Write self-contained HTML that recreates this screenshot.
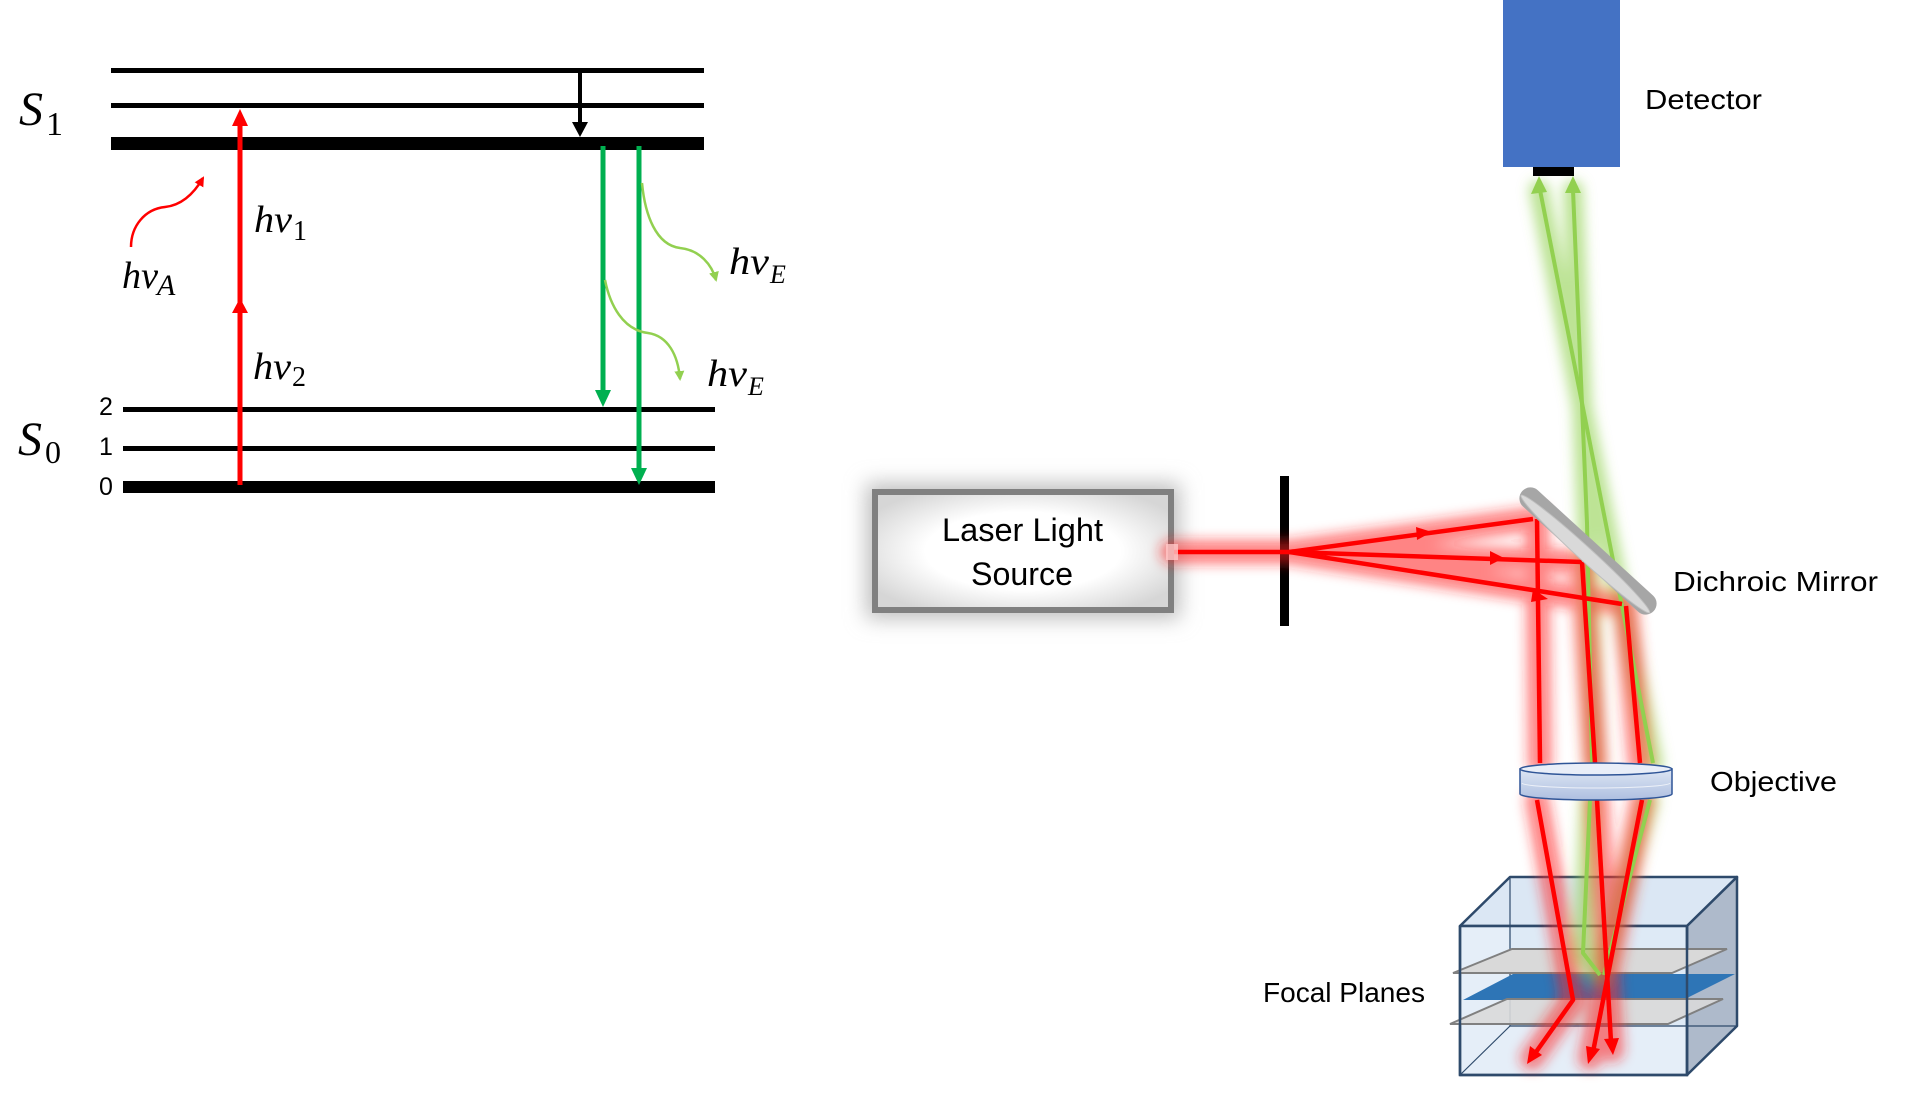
<!DOCTYPE html>
<html><head><meta charset="utf-8"><style>
html,body{margin:0;padding:0;background:#fff;}
svg{display:block;}
</style></head><body>
<svg width="1906" height="1098" viewBox="0 0 1906 1098" xmlns="http://www.w3.org/2000/svg">
<defs>
<filter id="blur" filterUnits="userSpaceOnUse" x="0" y="0" width="1906" height="1098"><feGaussianBlur stdDeviation="6"/></filter>
<filter id="blur2" filterUnits="userSpaceOnUse" x="0" y="0" width="1906" height="1098"><feGaussianBlur stdDeviation="10"/></filter>
<radialGradient id="boxg" cx="50%" cy="50%" r="60%">
<stop offset="0.55" stop-color="#ffffff"/><stop offset="1" stop-color="#d6d6d6"/>
</radialGradient>
<linearGradient id="objg" x1="0" y1="0" x2="0" y2="1">
<stop offset="0" stop-color="#dde6f4"/><stop offset="1" stop-color="#aebfe0"/>
</linearGradient>
<marker id="mr" markerWidth="10" markerHeight="10" refX="8" refY="5" orient="auto" markerUnits="userSpaceOnUse"><path d="M0,0 L10,5 L0,10 z" fill="#ff0000"/></marker>
<marker id="mg" markerWidth="10" markerHeight="10" refX="8" refY="5" orient="auto" markerUnits="userSpaceOnUse"><path d="M0,0 L10,5 L0,10 z" fill="#92d050"/></marker>
</defs>

<!-- ===== Left: Jablonski diagram ===== -->
<g fill="#000">
<rect x="111" y="68" width="593" height="5"/>
<rect x="111" y="103" width="593" height="5"/>
<rect x="111" y="137" width="593" height="13"/>
<rect x="123" y="407" width="592" height="5"/>
<rect x="123" y="446" width="592" height="5"/>
<rect x="123" y="481" width="592" height="12"/>
</g>
<g font-family="Liberation Serif, serif" fill="#000">
<text x="19" y="125" font-size="48" font-style="italic">S</text>
<text x="46" y="135" font-size="34">1</text>
<text x="18" y="455" font-size="48" font-style="italic">S</text>
<text x="45" y="463" font-size="32">0</text>
</g>
<g font-family="Liberation Sans, sans-serif" font-size="25" fill="#000">
<text x="99" y="415">2</text>
<text x="99" y="455">1</text>
<text x="99" y="495">0</text>
</g>
<!-- red absorption arrow -->
<line x1="240" y1="485" x2="240" y2="122" stroke="#ff0000" stroke-width="5"/>
<polygon points="240,109 232,126 248,126" fill="#ff0000"/>
<polygon points="240,298 232,313 248,313" fill="#ff0000"/>
<!-- black relaxation arrow -->
<line x1="580" y1="70" x2="580" y2="124" stroke="#000" stroke-width="4"/>
<polygon points="580,137 572,122 588,122" fill="#000"/>
<!-- green emission arrows -->
<line x1="603" y1="146" x2="603" y2="393" stroke="#00b050" stroke-width="5"/>
<polygon points="603,407 595,390 611,390" fill="#00b050"/>
<line x1="639" y1="146" x2="639" y2="471" stroke="#00b050" stroke-width="5"/>
<polygon points="639,485 631,468 647,468" fill="#00b050"/>
<!-- wavy arrows -->
<path d="M131,247 C131,226 145,209 165,207 C184,205 196,190 203,178" fill="none" stroke="#ff0000" stroke-width="2.5" marker-end="url(#mr)"/>
<path d="M642,183 C645,215 656,245 680,248 C700,250 712,265 716,280" fill="none" stroke="#92d050" stroke-width="2.5" marker-end="url(#mg)"/>
<path d="M605,280 C610,305 623,330 648,333 C668,336 678,355 680,379" fill="none" stroke="#92d050" stroke-width="2.5" marker-end="url(#mg)"/>
<g font-family="Liberation Serif, serif" fill="#000">
<text x="254" y="232" font-size="38" font-style="italic" textLength="38" lengthAdjust="spacingAndGlyphs">hv</text>
<text x="293" y="240" font-size="28">1</text>
<text x="253" y="379" font-size="38" font-style="italic" textLength="38" lengthAdjust="spacingAndGlyphs">hv</text>
<text x="292" y="386" font-size="28">2</text>
<text x="122" y="288" font-size="38" font-style="italic" textLength="36" lengthAdjust="spacingAndGlyphs">hv</text>
<text x="157" y="295" font-size="30" font-style="italic">A</text>
<text x="729" y="274" font-size="38" font-style="italic" textLength="40" lengthAdjust="spacingAndGlyphs">hv</text>
<text x="770" y="283" font-size="26" font-style="italic">E</text>
<text x="707" y="386" font-size="38" font-style="italic" textLength="40" lengthAdjust="spacingAndGlyphs">hv</text>
<text x="748" y="395" font-size="26" font-style="italic">E</text>
</g>

<!-- ===== Right: microscope ===== -->
<!-- laser box -->
<rect x="866" y="483" width="314" height="136" fill="#c0c0c0" filter="url(#blur2)"/>
<rect x="875" y="492" width="296" height="118" fill="url(#boxg)" stroke="#808080" stroke-width="6"/>
<g font-family="Liberation Sans, sans-serif" fill="#000">
<text x="942" y="541" font-size="32" textLength="161" lengthAdjust="spacingAndGlyphs">Laser Light</text>
<text x="971" y="585" font-size="32" textLength="102" lengthAdjust="spacingAndGlyphs">Source</text>
</g>
<!-- aperture -->
<rect x="1280" y="476" width="9" height="150" fill="#000"/>

<!-- cube -->
<g stroke="#2e4a6b" stroke-width="2.5" stroke-linejoin="round">
<polygon points="1510,877 1737,877 1737,1026 1510,1026" fill="#e3edf7" stroke-width="1.2"/>
<polygon points="1460,926 1510,877 1737,877 1687,926" fill="#dbe7f4"/>
<polygon points="1687,926 1737,877 1737,1026 1687,1075" fill="#aebacb"/>
<polygon points="1460,926 1687,926 1687,1075 1460,1075" fill="#dce8f5" fill-opacity="0.75"/>
<line x1="1510" y1="877" x2="1510" y2="1026" stroke-width="1.2"/>
<line x1="1510" y1="1026" x2="1737" y2="1026" stroke-width="1.2"/>
<line x1="1460" y1="1075" x2="1510" y2="1026" stroke-width="1.2"/>
</g>
<!-- focal planes -->
<polygon points="1453,973 1512,949 1727,949 1672,973" fill="#d9d9d9" stroke="#808080" stroke-width="2"/>
<polygon points="1463,1000 1513,974 1735,974 1683,1000" fill="#2e75b6"/>
<polygon points="1450,1024 1507,999 1723,999 1668,1024" fill="#d9d9d9" fill-opacity="0.9" stroke="#808080" stroke-width="2"/>
<g stroke="#2e4a6b" stroke-width="2.5" fill="none">
<polyline points="1687,926 1687,1075 1460,1075 1460,926"/>
</g>

<!-- glows -->
<g fill="none" stroke-linecap="round" stroke-linejoin="round" filter="url(#blur)">
<g stroke="#92d050" stroke-width="20" opacity="0.6">
<path d="M1539,190 L1653,763"/>
<path d="M1573,190 L1587,523 L1595,763"/>
<path d="M1590,800 L1583,953 L1600,975"/>
<path d="M1649,800 L1600,975"/>
</g>
<g stroke="#ff2020" stroke-width="24" opacity="0.55">
<path d="M1172,552 L1289,552"/>
<path d="M1289,552 L1533,519"/>
<path d="M1289,552 L1582,562"/>
<path d="M1289,552 L1622,604"/>
<path d="M1537,519 L1540,763"/>
<path d="M1582,562 L1595,763"/>
<path d="M1626,606 L1640,763"/>
<path d="M1537,800 L1573,1000 L1532,1058"/>
<path d="M1597,800 L1612,1050"/>
<path d="M1642,800 L1590,1058"/>
</g>
</g>

<!-- green beams -->
<g fill="none" stroke="#92d050" stroke-width="4" stroke-linejoin="round">
<path d="M1540,190 L1653,763"/>
<path d="M1573,190 L1587,523 L1592,763"/>
<path d="M1590,800 L1583,953 L1600,975"/>
<path d="M1650,800 L1604,975"/>
</g>
<polygon points="1539,176 1531,194 1547,192" fill="#92d050"/>
<polygon points="1573,176 1565,193 1581,193" fill="#92d050"/>

<!-- red beams -->
<g fill="none" stroke="#ff0000" stroke-width="4.5" stroke-linejoin="round">
<path d="M1174,552 L1289,552"/>
<path d="M1289,552 L1533,519"/>
<path d="M1289,552 L1582,562"/>
<path d="M1289,552 L1622,604"/>
<path d="M1537,519 L1540,763"/>
<path d="M1582,562 L1595,763"/>
<path d="M1626,606 L1640,763"/>
<path d="M1537,800 L1573,1000 L1536,1052"/>
<path d="M1597,800 L1611,1042"/>
<path d="M1642,800 L1593,1052"/>
</g>
<!-- red arrowheads -->
<polygon points="1432,532 1416,527 1417,540" fill="#ff0000"/>
<polygon points="1504,558 1490,551 1490,565" fill="#ff0000"/>
<polygon points="1548,599 1533,589 1531,602" fill="#ff0000"/>
<polygon points="1527,1064 1530,1046 1542,1055" fill="#ff0000"/>
<polygon points="1613,1055 1604,1039 1619,1038" fill="#ff0000"/>
<polygon points="1588,1064 1586,1046 1600,1049" fill="#ff0000"/>
<!-- pink exit stub -->
<rect x="1166" y="544" width="12" height="16" fill="#ffc8c8" opacity="0.8"/>

<!-- dichroic mirror -->
<g transform="translate(1588,551) rotate(42.4)">
<rect x="-89" y="-11" width="178" height="22" rx="11" fill="#a6a6a6"/>
<ellipse cx="0" cy="4" rx="87" ry="7" fill="#d9d9d9" stroke="#bfbfbf" stroke-width="1"/>
</g>

<!-- objective -->
<path d="M1520,769 L1520,794 A76,6 0 0 0 1672,794 L1672,769 Z" fill="url(#objg)" stroke="#2f5597" stroke-width="1.5"/>
<ellipse cx="1596" cy="769" rx="76" ry="6" fill="#e9eef8" stroke="#2f5597" stroke-width="1.5"/>
<path d="M1522,783 A74,5 0 0 0 1670,783" fill="none" stroke="#ffffff" stroke-width="1" opacity="0.7"/>

<!-- detector -->
<rect x="1503" y="0" width="117" height="167" fill="#4472c4"/>
<rect x="1533" y="167" width="41" height="9" fill="#000"/>

<!-- labels -->
<g font-family="Liberation Sans, sans-serif" font-size="28" fill="#000">
<text x="1645" y="109" textLength="117" lengthAdjust="spacingAndGlyphs">Detector</text>
<text x="1673" y="591" textLength="205" lengthAdjust="spacingAndGlyphs">Dichroic Mirror</text>
<text x="1710" y="791" textLength="127" lengthAdjust="spacingAndGlyphs">Objective</text>
<text x="1263" y="1002" textLength="162" lengthAdjust="spacingAndGlyphs">Focal Planes</text>
</g>
</svg>
</body></html>
